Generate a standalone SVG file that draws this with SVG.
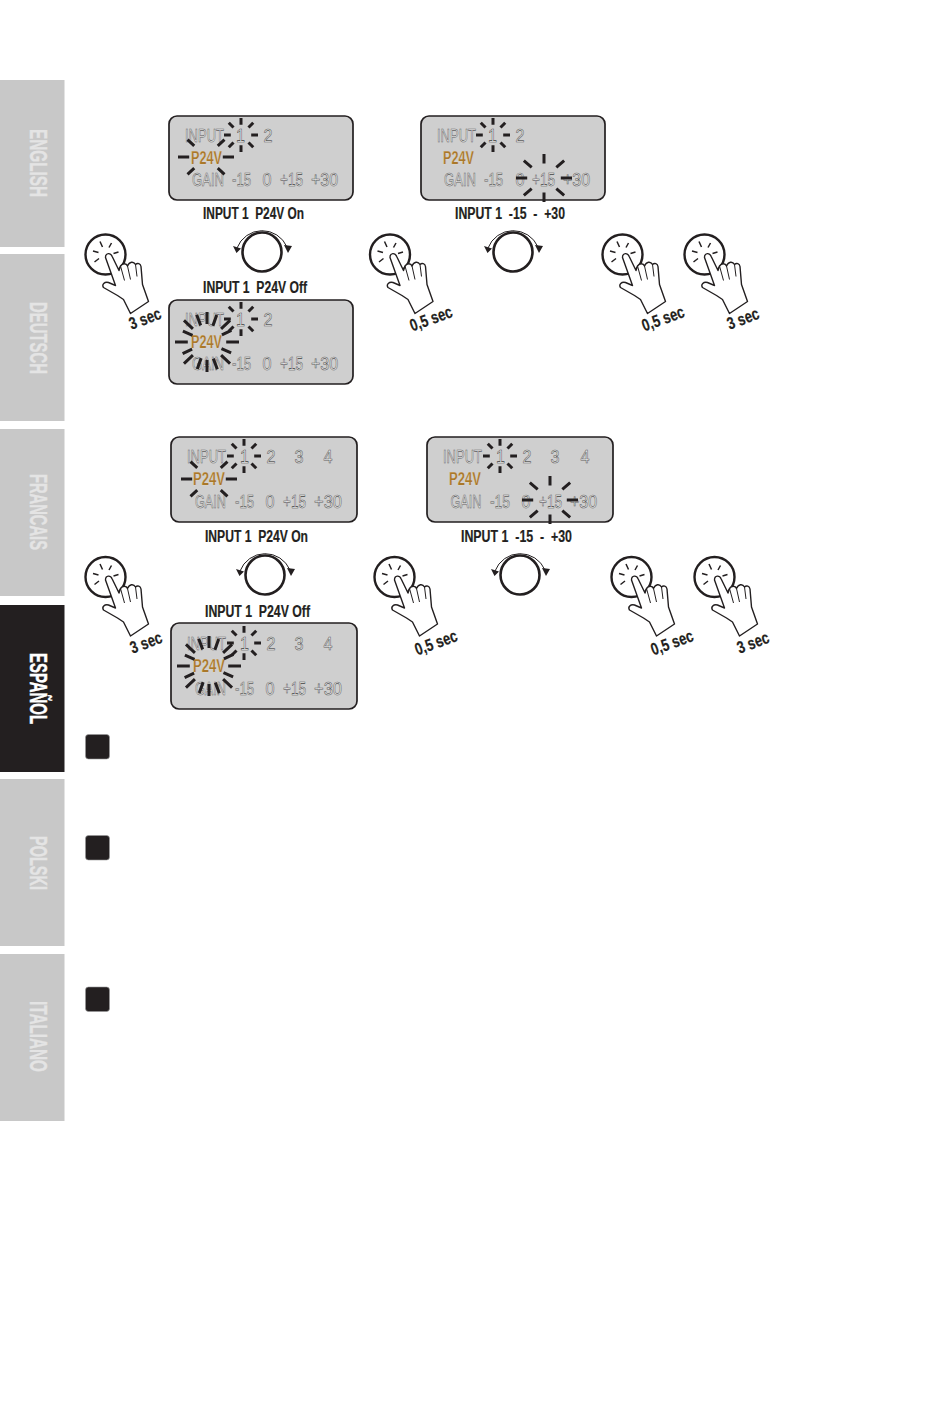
<svg xmlns="http://www.w3.org/2000/svg" width="950" height="1405" viewBox="0 0 950 1405">
<style>
text{font-family:"Liberation Sans",Arial,sans-serif}
.tab{fill:#c8c8c8}
.tabt{font-size:23px;font-weight:700;fill:#e4e4e4;stroke:#e4e4e4;stroke-width:.4;text-anchor:middle}
.panel{fill:#cfcfcf;stroke:#231f20;stroke-width:1.7}
.d{font-size:19px;fill:#ececec;stroke:#5c5c5c;stroke-width:.6;text-anchor:middle}
.w{font-size:19px;fill:#fff;stroke:#3c3c3c;stroke-width:.55;text-anchor:middle}
.p{font-size:19px;font-weight:700;fill:#a9782a;stroke:#eadfc6;stroke-width:.25;text-anchor:middle}
.lab{font-size:16px;font-weight:700;fill:#231f20;stroke:#231f20;stroke-width:.2;text-anchor:middle}
.sec{font-size:17px;font-weight:700;fill:#231f20;stroke:#231f20;stroke-width:.2;text-anchor:middle}
.ray{stroke:#231f20;stroke-width:3;fill:none;vector-effect:non-scaling-stroke}
.thin{stroke:#231f20;stroke-width:1;fill:none}
.spark{stroke:#231f20;stroke-width:1.5;fill:none}
.knob{stroke:#231f20;stroke-width:2.6;fill:#fff}
.ring{stroke:#231f20;stroke-width:2.4;fill:#fff}
.hand{stroke:#231f20;stroke-width:1.4;fill:#fff;stroke-linejoin:round}
.sq{fill:#231f20;stroke:#999;stroke-width:.6}
</style>
<defs>
<g id="burst">
<path class="ray" d="M0-10V-6M0 10V6M-10 0H-6M10 0H6M-7.2-7.2L-4.4-4.4M7.2-7.2L4.4-4.4M-7.2 7.2L-4.4 4.4M7.2 7.2L4.4 4.4"/>
</g>
<g id="burstwide">
<path class="ray" d="M-10 0H-6M10 0H6M-6.6-7.2L-4.2-4.6M6.6-7.2L4.2-4.6M-6.6 7.2L-4.2 4.6M6.6 7.2L4.2 4.6"/>
</g>
<g id="handicon">
<circle class="ring" cx="0" cy="0" r="20"/>
<path class="spark" d="M-5.500-13L-3-7.500M6-11.500L3.500-7M-12.500-3.500L-7-2M-11 7.500L-6.500 4M13-2.500L8-1"/>
<path class="hand" d="M0 3C0-2 5-2 6.700 2L13.500 16L15 11.500C17 8.500 21 8.500 22 11.500C24 7 28 6.500 30 10C32 8 35 9 35.500 12L37 30L43 47L25 59L18 45L12 41L-2 33C-4 30-1 27 3 28L10 31Z"/>
<path class="thin" stroke-width="1.200" d="M15 11.500L19 26M22 11.500L25 25M30 10L31.500 22"/>
</g>
<g id="knobicon">
<circle class="knob" cx="0" cy="0" r="19.500"/>
<path class="thin" d="M-25-4A27 27 0 0 1 25-5"/>
<path fill="#231f20" d="M-29-6L-21-3.500L-25.500 1ZM22-7L30-6L26 1Z"/>
</g>
</defs>
<rect width="950" height="1405" fill="#fff"/>

<g id="tab-english"><rect class="tab" y="80" width="64.500" height="167"/><text class="tabt" transform="translate(30,163) rotate(90)" textLength="68" lengthAdjust="spacingAndGlyphs">ENGLISH</text></g>
<g id="tab-deutsch"><rect class="tab" y="254" width="64.500" height="167"/><text class="tabt" transform="translate(30,338) rotate(90)" textLength="72" lengthAdjust="spacingAndGlyphs">DEUTSCH</text></g>
<g id="tab-francais"><rect class="tab" y="429" width="64.500" height="167"/><text class="tabt" transform="translate(30,512) rotate(90)" textLength="76" lengthAdjust="spacingAndGlyphs">FRANCAIS</text></g>
<g id="tab-espanol"><rect y="605" width="64.500" height="167" fill="#231f20"/><text class="tabt" style="fill:#fff;stroke:#fff" transform="translate(30,688.500) rotate(90)" textLength="71" lengthAdjust="spacingAndGlyphs">ESPAÑOL</text></g>
<g id="tab-polski"><rect class="tab" y="779" width="64.500" height="167"/><text class="tabt" transform="translate(30,863) rotate(90)" textLength="54" lengthAdjust="spacingAndGlyphs">POLSKI</text></g>
<g id="tab-italiano"><rect class="tab" y="954" width="64.500" height="167"/><text class="tabt" transform="translate(30,1036.500) rotate(90)" textLength="71" lengthAdjust="spacingAndGlyphs">ITALIANO</text></g>

<g id="panel-1">
<rect class="panel" x="169" y="116" width="184" height="84" rx="8"/>
<text class="d" transform="translate(204.500,142) scale(.684,1)">INPUT</text><text class="w" transform="translate(240.500,142) scale(.85,1)">1</text><text class="d" transform="translate(268,142) scale(.85,1)">2</text>
<text class="p" x="206.500" y="164" textLength="31" lengthAdjust="spacingAndGlyphs">P24V</text>
<text class="d" transform="translate(208,186) scale(.688,1)">GAIN</text><text class="d" x="241.500" y="186" textLength="19" lengthAdjust="spacingAndGlyphs">-15</text><text class="d" transform="translate(267,186) scale(.85,1)">0</text><text class="w" x="291.500" y="186" textLength="23" lengthAdjust="spacingAndGlyphs">+15</text><text class="d" x="324.500" y="186" textLength="27" lengthAdjust="spacingAndGlyphs">+30</text>
<use href="#burst" transform="translate(241,135) scale(1.7)"/>
<use href="#burstwide" transform="translate(206,157) scale(2.8,2.400)"/>
</g>
<g id="panel-2">
<rect class="panel" x="421" y="116" width="184" height="84" rx="8"/>
<text class="d" transform="translate(456.500,142) scale(.684,1)">INPUT</text><text class="w" transform="translate(492.500,142) scale(.85,1)">1</text><text class="d" transform="translate(520,142) scale(.85,1)">2</text>
<text class="p" x="458.500" y="164" textLength="31" lengthAdjust="spacingAndGlyphs">P24V</text>
<text class="d" transform="translate(460,186) scale(.688,1)">GAIN</text><text class="d" x="493.500" y="186" textLength="19" lengthAdjust="spacingAndGlyphs">-15</text><text class="d" transform="translate(520,186) scale(.85,1)">0</text><text class="w" x="543.500" y="186" textLength="23" lengthAdjust="spacingAndGlyphs">+15</text><text class="d" x="576.500" y="186" textLength="27" lengthAdjust="spacingAndGlyphs">+30</text>
<use href="#burst" transform="translate(493,135) scale(1.7)"/>
<use href="#burst" transform="translate(544,178) scale(2.8,2.400)"/>
</g>
<g id="panel-3">
<rect class="panel" x="169" y="300" width="184" height="84" rx="8"/>
<text class="d" transform="translate(204.500,326) scale(.684,1)">INPUT</text><text class="w" transform="translate(240.500,326) scale(.85,1)">1</text><text class="d" transform="translate(268,326) scale(.85,1)">2</text>
<text class="p" x="206.500" y="348" textLength="31" lengthAdjust="spacingAndGlyphs">P24V</text>
<text class="d" transform="translate(208,370) scale(.688,1)">GAIN</text><text class="d" x="241.500" y="370" textLength="19" lengthAdjust="spacingAndGlyphs">-15</text><text class="d" transform="translate(267,370) scale(.85,1)">0</text><text class="w" x="291.500" y="370" textLength="23" lengthAdjust="spacingAndGlyphs">+15</text><text class="d" x="324.500" y="370" textLength="27" lengthAdjust="spacingAndGlyphs">+30</text>
<use href="#burst" transform="translate(241,319) scale(1.7)"/>
<use href="#burst" transform="translate(207,342) scale(3.2,3.000)"/>
<use href="#burst" transform="translate(207,342) scale(2.6,2.900) rotate(22)"/>
</g>
<g id="panel-4">
<rect class="panel" x="171" y="437" width="186" height="85" rx="8"/>
<text class="d" transform="translate(206.500,463) scale(.684,1)">INPUT</text><text class="w" transform="translate(244.500,463) scale(.85,1)">1</text><text class="d" transform="translate(271,463) scale(.85,1)">2</text><text class="d" transform="translate(299,463) scale(.85,1)">3</text><text class="d" transform="translate(328,463) scale(.85,1)">4</text>
<text class="p" x="209" y="485" textLength="32" lengthAdjust="spacingAndGlyphs">P24V</text>
<text class="d" transform="translate(210.500,508) scale(.667,1)">GAIN</text><text class="d" x="244.500" y="508" textLength="19" lengthAdjust="spacingAndGlyphs">-15</text><text class="d" transform="translate(270,508) scale(.85,1)">0</text><text class="w" x="294.500" y="508" textLength="23" lengthAdjust="spacingAndGlyphs">+15</text><text class="d" x="328" y="508" textLength="28" lengthAdjust="spacingAndGlyphs">+30</text>
<use href="#burst" transform="translate(244,456) scale(1.7)"/>
<use href="#burstwide" transform="translate(209,479) scale(2.8,2.400)"/>
</g>
<g id="panel-5">
<rect class="panel" x="427" y="437" width="186" height="85" rx="8"/>
<text class="d" transform="translate(462.500,463) scale(.684,1)">INPUT</text><text class="w" transform="translate(500.500,463) scale(.85,1)">1</text><text class="d" transform="translate(527,463) scale(.85,1)">2</text><text class="d" transform="translate(555,463) scale(.85,1)">3</text><text class="d" transform="translate(585,463) scale(.85,1)">4</text>
<text class="p" x="465" y="485" textLength="32" lengthAdjust="spacingAndGlyphs">P24V</text>
<text class="d" transform="translate(466,508) scale(.667,1)">GAIN</text><text class="d" x="500" y="508" textLength="20" lengthAdjust="spacingAndGlyphs">-15</text><text class="d" transform="translate(526,508) scale(.85,1)">0</text><text class="w" x="550.500" y="508" textLength="23" lengthAdjust="spacingAndGlyphs">+15</text><text class="d" x="583.500" y="508" textLength="27" lengthAdjust="spacingAndGlyphs">+30</text>
<use href="#burst" transform="translate(500,456) scale(1.7)"/>
<use href="#burst" transform="translate(550,500) scale(2.8,2.400)"/>
</g>
<g id="panel-6">
<rect class="panel" x="171" y="623" width="186" height="86" rx="8"/>
<text class="d" transform="translate(206.500,650) scale(.684,1)">INPUT</text><text class="w" transform="translate(244.500,650) scale(.85,1)">1</text><text class="d" transform="translate(271,650) scale(.85,1)">2</text><text class="d" transform="translate(299,650) scale(.85,1)">3</text><text class="d" transform="translate(328,650) scale(.85,1)">4</text>
<text class="p" x="209" y="672" textLength="32" lengthAdjust="spacingAndGlyphs">P24V</text>
<text class="d" transform="translate(210.500,695) scale(.667,1)">GAIN</text><text class="d" x="244.500" y="695" textLength="19" lengthAdjust="spacingAndGlyphs">-15</text><text class="d" transform="translate(270,695) scale(.85,1)">0</text><text class="w" x="294.500" y="695" textLength="23" lengthAdjust="spacingAndGlyphs">+15</text><text class="d" x="328" y="695" textLength="28" lengthAdjust="spacingAndGlyphs">+30</text>
<use href="#burst" transform="translate(244,643) scale(1.7)"/>
<use href="#burst" transform="translate(209,666) scale(3.2,3.000)"/>
<use href="#burst" transform="translate(209,666) scale(2.6,2.900) rotate(22)"/>
</g>

<g id="labels">
<text class="lab" xml:space="preserve" x="253.500" y="218.500" textLength="101" lengthAdjust="spacingAndGlyphs">INPUT 1  P24V On</text>
<text class="lab" xml:space="preserve" x="510" y="218.500" textLength="110" lengthAdjust="spacingAndGlyphs">INPUT 1  -15  -  +30</text>
<text class="lab" xml:space="preserve" x="255" y="292.500" textLength="104" lengthAdjust="spacingAndGlyphs">INPUT 1  P24V Off</text>
<text class="lab" xml:space="preserve" x="256.500" y="541.500" textLength="103" lengthAdjust="spacingAndGlyphs">INPUT 1  P24V On</text>
<text class="lab" xml:space="preserve" x="516.500" y="541.500" textLength="111" lengthAdjust="spacingAndGlyphs">INPUT 1  -15  -  +30</text>
<text class="lab" xml:space="preserve" x="257.500" y="616.500" textLength="105" lengthAdjust="spacingAndGlyphs">INPUT 1  P24V Off</text>
</g>

<g id="knob-1"><use href="#knobicon" x="262" y="252"/></g>
<g id="knob-2"><use href="#knobicon" x="513" y="252"/></g>
<g id="knob-3"><use href="#knobicon" x="265" y="575"/></g>
<g id="knob-4"><use href="#knobicon" x="520" y="575"/></g>

<g id="hand-1"><use href="#handicon" x="105.500" y="254.500"/><text class="sec" transform="translate(147,324) rotate(-20)" textLength="33" lengthAdjust="spacingAndGlyphs">3 sec</text></g>
<g id="hand-2"><use href="#handicon" x="390" y="254.500"/><text class="sec" transform="translate(433,324) rotate(-20)" textLength="44" lengthAdjust="spacingAndGlyphs">0,5 sec</text></g>
<g id="hand-3"><use href="#handicon" x="622.500" y="254.500"/><text class="sec" transform="translate(665,324) rotate(-20)" textLength="44" lengthAdjust="spacingAndGlyphs">0,5 sec</text></g>
<g id="hand-4"><use href="#handicon" x="704.500" y="254.500"/><text class="sec" transform="translate(745,324) rotate(-20)" textLength="33" lengthAdjust="spacingAndGlyphs">3 sec</text></g>
<g id="hand-5"><use href="#handicon" x="105.500" y="577"/><text class="sec" transform="translate(148,648) rotate(-20)" textLength="33" lengthAdjust="spacingAndGlyphs">3 sec</text></g>
<g id="hand-6"><use href="#handicon" x="394.500" y="577"/><text class="sec" transform="translate(438,648) rotate(-20)" textLength="44" lengthAdjust="spacingAndGlyphs">0,5 sec</text></g>
<g id="hand-7"><use href="#handicon" x="631.500" y="577"/><text class="sec" transform="translate(674,648) rotate(-20)" textLength="44" lengthAdjust="spacingAndGlyphs">0,5 sec</text></g>
<g id="hand-8"><use href="#handicon" x="714.500" y="577"/><text class="sec" transform="translate(755,648) rotate(-20)" textLength="33" lengthAdjust="spacingAndGlyphs">3 sec</text></g>

<g id="step-1"><rect class="sq" x="85.500" y="734.500" width="24" height="24.500" rx="3"/></g>
<g id="step-2"><rect class="sq" x="85.500" y="835.500" width="24" height="24.500" rx="3"/></g>
<g id="step-3"><rect class="sq" x="85.500" y="987" width="24" height="24.500" rx="3"/></g>
<g id="connectors"/>
</svg>
